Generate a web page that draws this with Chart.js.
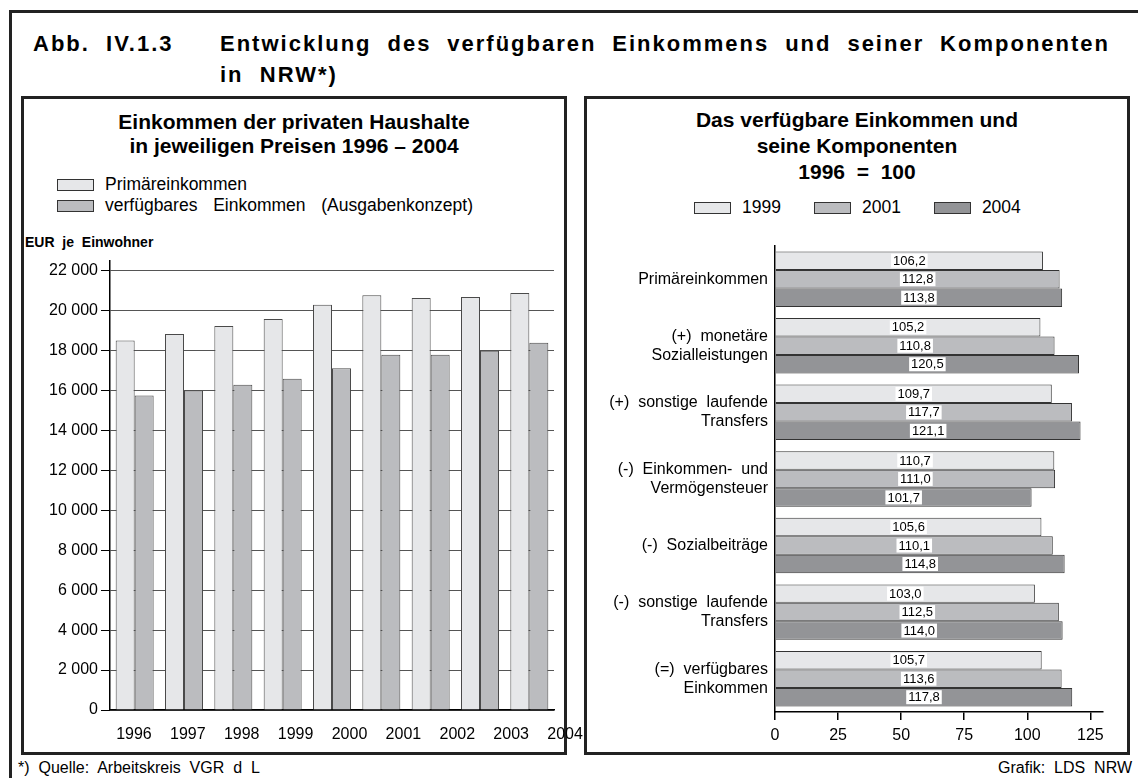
<!DOCTYPE html>
<html lang="de">
<head>
<meta charset="utf-8">
<title>Abb. IV.1.3</title>
<script src="https://cdn.jsdelivr.net/npm/chart.js@4.4.1/dist/chart.umd.min.js"></script>
<style>
  html, body { margin: 0; padding: 0; background: #fff; }
  body { width: 1138px; height: 778px; position: relative; overflow: hidden;
         font-family: "Liberation Sans", Arial, sans-serif; color: #000; }
  .abs { position: absolute; }
  .frame { left: 9px; top: 10px; width: 1140px; height: 780px;
           border-top: 3px solid #222; border-left: 3px solid #222; }
  .panel { border: 3px solid #222; box-sizing: border-box; top: 96px; height: 659px; width: 546px; }
  .mainhead { font-weight: bold; font-size: 22px; letter-spacing: 2px; line-height: 31px; white-space: nowrap; }
  .ptitle { font-weight: bold; font-size: 21px; line-height: 24px; text-align: center; }
  .leg { font-size: 17.5px; line-height: 21px; white-space: pre; }
  .sw { display: inline-block; width: 37px; height: 12px; border: 1px solid #333;
        box-sizing: border-box; vertical-align: -1px; margin-right: 11px; }
  .foot { font-size: 16px; top: 759px; white-space: pre; }
</style>
</head>
<body>
<div class="abs frame"></div>

<div class="abs mainhead" style="left:33px; top:28px;">Abb.&nbsp; IV.1.3</div>
<div class="abs mainhead" style="left:220px; top:28px; width:890px; text-align:justify; text-align-last:justify;">Entwicklung des verfügbaren Einkommens und seiner Komponenten</div>
<div class="abs mainhead" style="left:220px; top:59px;">in&nbsp; NRW*)</div>

<div class="abs panel" style="left:21px;"></div>
<div class="abs panel" style="left:584px;"></div>

<!-- left panel -->
<div class="abs ptitle" style="left:24px; width:540px; top:110px;">Einkommen der privaten Haushalte<br>in jeweiligen Preisen 1996 – 2004</div>
<div class="abs leg" id="legLeft" style="left:57px; top:174px;"></div>
<div class="abs" style="left:25px; top:234px; font-weight:bold; font-size:14px; white-space:pre;">EUR  je  Einwohner</div>
<canvas id="left" class="abs" style="left:23px; top:248px;" width="542" height="497"></canvas>
<canvas id="leftYears" class="abs" style="left:107px; top:690px;" width="485" height="55"></canvas>

<!-- right panel -->
<div class="abs ptitle" style="left:587px; width:540px; top:107px; line-height:26px;">Das verfügbare Einkommen und<br>seine Komponenten<br>1996&nbsp; =&nbsp; 100</div>
<div class="abs leg" id="legRight" style="left:694px; top:197px;"></div>
<canvas id="right" class="abs" style="left:587px; top:220px;" width="540" height="530"></canvas>

<div class="abs foot" style="left:18px;">*)  Quelle:  Arbeitskreis  VGR  d  L</div>
<div class="abs foot" style="right:6px;">Grafik:  LDS  NRW</div>

<script>
// ---- data: left chart (EUR je Einwohner) ----
const years = ["1996", "1997", "1998", "1999", "2000", "2001", "2002", "2003", "2004"];
const primaerEinkommen = [18500, 18830, 19230, 19580, 20290, 20760, 20630, 20680, 20880];
const verfuegbaresEinkommen = [15740, 16000, 16290, 16590, 17110, 17790, 17790, 17990, 18390];
const leftSeries = ["Primäreinkommen", "verfügbares  Einkommen  (Ausgabenkonzept)"];
const leftTicks = [0, 2000, 4000, 6000, 8000, 10000, 12000, 14000, 16000, 18000, 20000, 22000];

// ---- data: right chart (1996 = 100) ----
const komponenten = [
  "Primäreinkommen",
  ["(+)  monetäre", "Sozialleistungen"],
  ["(+)  sonstige  laufende", "Transfers"],
  ["(-)  Einkommen-  und", "Vermögensteuer"],
  "(-)  Sozialbeiträge",
  ["(-)  sonstige  laufende", "Transfers"],
  ["(=)  verfügbares", "Einkommen"]
];
const index1999 = [106.2, 105.2, 109.7, 110.7, 105.6, 103.0, 105.7];
const index2001 = [112.8, 110.8, 117.7, 111.0, 110.1, 112.5, 113.6];
const index2004 = [113.8, 120.5, 121.1, 101.7, 114.8, 114.0, 117.8];
const rightSeries = ["1999", "2001", "2004"];
const rightTicks = [0, 25, 50, 75, 100, 125];

const light = "#e6e7e9", mid = "#bbbcbf", dark = "#939497";

Chart.defaults.font.family = '"Liberation Sans", Arial, sans-serif';
Chart.defaults.color = "#000";
Chart.defaults.animation = false;

// legends as plain html
document.getElementById("legLeft").innerHTML =
  '<span class="sw" style="background:' + light + '"></span>' + leftSeries[0] + '<br>' +
  '<span class="sw" style="background:' + mid + '"></span><span style="word-spacing:3px">' + leftSeries[1] + '</span>';
document.getElementById("legRight").innerHTML = [light, mid, dark].map((c, i) =>
  '<span class="sw" style="background:' + c + '"></span>' + rightSeries[i]).join('<span style="display:inline-block;width:33px"></span>');

const fmtThousands = v => String(v).replace(/\B(?=(\d{3})+(?!\d))/g, " ");

// left chart
new Chart(document.getElementById("left"), {
  type: "bar",
  data: {
    labels: years,
    datasets: [
      { label: leftSeries[0], data: primaerEinkommen, backgroundColor: light, borderColor: "#4a4a4a", borderWidth: 1 },
      { label: leftSeries[1], data: verfuegbaresEinkommen, backgroundColor: mid, borderColor: "#4a4a4a", borderWidth: 1 }
    ]
  },
  options: {
    responsive: false,
    categoryPercentage: 0.77,
    barPercentage: 1,
    layout: { padding: { top: 10, right: 11, left: 0, bottom: 0 } },
    plugins: { legend: { display: false }, tooltip: { enabled: false } },
    scales: {
      x: {
        grid: { display: false },
        ticks: { display: false },
        border: { color: "#000", width: 1.5 },
        afterFit: s => { s.height = 35; }
      },
      y: {
        min: 0, max: 22500,
        afterBuildTicks: s => { s.ticks = leftTicks.map(v => ({ value: v })); },
        ticks: { padding: 3, font: { size: 16 }, callback: v => fmtThousands(v) },
        grid: { color: "#555", tickLength: 9, tickColor: "#000", lineWidth: 1 },
        border: { color: "#000", width: 1.5 },
        afterFit: s => { s.width = 87; }
      }
    }
  }
});

// year labels of the left chart sit on their own slightly wider axis, as in the original
new Chart(document.getElementById("leftYears"), {
  type: "bar",
  data: { labels: years, datasets: [] },
  options: {
    responsive: false,
    plugins: { legend: { display: false }, tooltip: { enabled: false } },
    scales: {
      x: {
        offset: true,
        grid: { display: false },
        border: { display: false },
        ticks: { font: { size: 16 }, padding: 7, maxRotation: 0, autoSkip: false },
        afterFit: s => { s.height = 35; }
      },
      y: { display: false }
    }
  }
});

// white boxes with the values inside the bars
const valueBoxes = {
  id: "valueBoxes",
  afterDatasetsDraw(chart) {
    const ctx = chart.ctx;
    ctx.save();
    ctx.font = '13px "Liberation Sans", Arial, sans-serif';
    ctx.textAlign = "center";
    ctx.textBaseline = "middle";
    chart.data.datasets.forEach((ds, di) => {
      chart.getDatasetMeta(di).data.forEach((bar, i) => {
        const p = bar.getProps(["x", "y", "base"], true);
        const cx = (p.x + p.base) / 2;
        const txt = ds.data[i].toFixed(1).replace(".", ",");
        const w = ctx.measureText(txt).width + 4;
        ctx.fillStyle = "#fff";
        ctx.fillRect(cx - w / 2, p.y - 7, w, 14);
        ctx.fillStyle = "#000";
        ctx.fillText(txt, cx, p.y + 0.5);
      });
    });
    ctx.restore();
  }
};

// right chart
new Chart(document.getElementById("right"), {
  type: "bar",
  data: {
    labels: komponenten,
    datasets: [
      { label: rightSeries[0], data: index1999, backgroundColor: light, borderColor: "#333", borderWidth: 1 },
      { label: rightSeries[1], data: index2001, backgroundColor: mid, borderColor: "#333", borderWidth: 1 },
      { label: rightSeries[2], data: index2004, backgroundColor: dark, borderColor: "#333", borderWidth: 1 }
    ]
  },
  options: {
    responsive: false,
    indexAxis: "y",
    categoryPercentage: 0.833,
    barPercentage: 1,
    layout: { padding: { top: 9, right: 24, left: 0, bottom: 0 } },
    plugins: { legend: { display: false }, tooltip: { enabled: false } },
    scales: {
      x: {
        min: 0, max: 130,
        afterBuildTicks: s => { s.ticks = rightTicks.map(v => ({ value: v })); },
        ticks: { padding: 6, font: { size: 16 } },
        grid: { drawOnChartArea: false, drawTicks: true, tickLength: 8, tickColor: "#000", lineWidth: 1.5 },
        border: { color: "#000", width: 1.5 },
        afterFit: s => { s.height = 38; }
      },
      y: {
        grid: { display: false, drawTicks: false },
        border: { color: "#000", width: 1.5 },
        ticks: { padding: 7, font: { size: 16, lineHeight: 1.18 }, autoSkip: false },
        afterFit: s => { s.width = 188; }
      }
    }
  },
  plugins: [valueBoxes]
});
</script>
</body>
</html>
